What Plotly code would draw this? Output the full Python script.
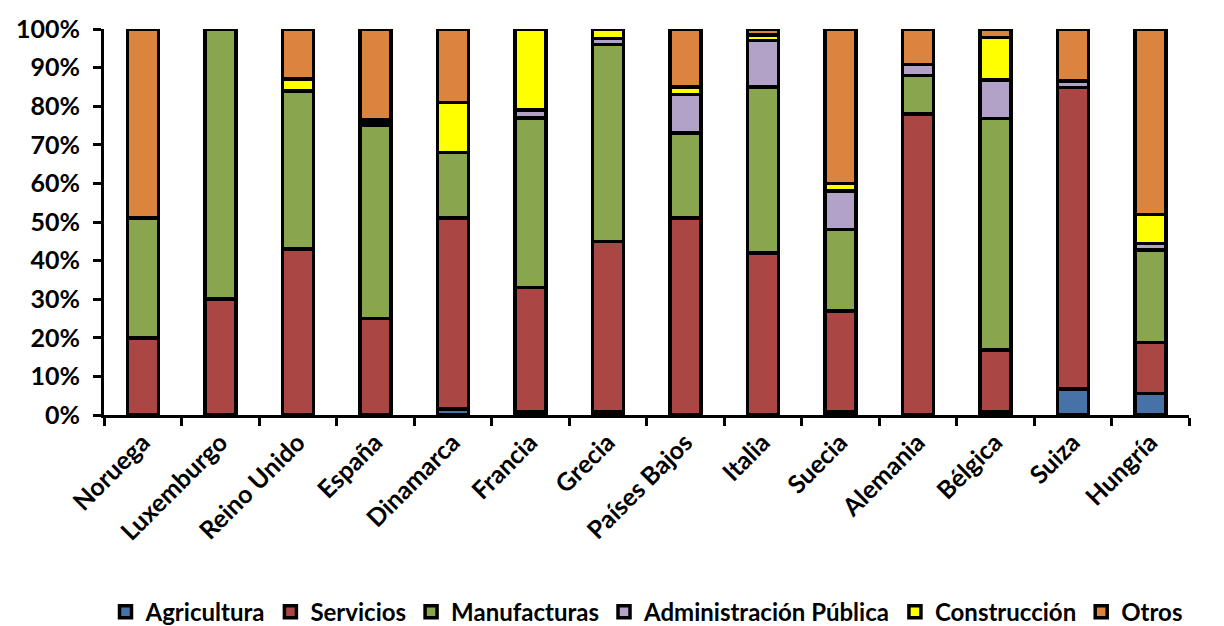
import plotly.graph_objects as go

paises = ["Noruega", "Luxemburgo", "Reino Unido", "España", "Dinamarca", "Francia", "Grecia",
          "Países Bajos", "Italia", "Suecia", "Alemania", "Bélgica", "Suiza", "Hungría"]

agricultura    = [0, 0, 0, 0, 1.5, 0.8, 0.8, 0, 0, 0.8, 0, 0.8, 6.7, 5.6]
servicios      = [20, 30, 43, 25, 49.5, 32.2, 44.2, 51, 42, 26.2, 78, 16, 78.2, 13.2]
manufacturas   = [31, 70, 41, 50, 17, 44, 51, 22, 43, 21, 10, 60, 0, 24]
administracion = [0, 0, 0, 0.7, 0, 2, 1.5, 10, 12, 10, 2.8, 10, 1.6, 1.6]
construccion   = [0, 0, 3, 0.7, 13, 21, 2.5, 2, 1.5, 2, 0, 11, 0, 7.5]
otros          = [49, 0, 13, 23.6, 19, 0, 0, 15, 1.5, 40, 9.2, 2.2, 13.5, 48.1]

series = [
    ("Agricultura", agricultura, "#4672A8"),
    ("Servicios", servicios, "#AA4643"),
    ("Manufacturas", manufacturas, "#89A54E"),
    ("Administración Pública", administracion, "#B2A2C7"),
    ("Construcción", construccion, "#FFFF00"),
    ("Otros", otros, "#DB843D"),
]

FONT = "Lato"

fig = go.Figure()
for name, vals, color in series:
    fig.add_trace(go.Bar(
        x=paises, y=vals, name=name,
        marker=dict(color=color, line=dict(color="black", width=3.5)),
    ))

fig.update_layout(
    barmode="stack",
    bargap=0.6,
    width=1224, height=626,
    margin=dict(l=104, r=35, t=29, b=211),
    paper_bgcolor="white", plot_bgcolor="white",
    font=dict(family=FONT, color="black"),
    legend=dict(
        orientation="h", x=0.5, xanchor="center",
        yref="container", y=0.022, yanchor="middle",
        font=dict(family=FONT, size=24, weight="bold"),
        traceorder="normal",
        itemwidth=30,
        entrywidthmode="pixels",
    ),
    xaxis=dict(
        type="category",
        showline=True, linecolor="black", linewidth=3,
        ticks="outside", tickson="boundaries", ticklen=8, tickwidth=3, tickcolor="black",
        tickangle=-45,
        tickfont=dict(family=FONT, size=25, weight="bold"),
        showgrid=False,
    ),
    yaxis=dict(
        range=[0, 100], dtick=10, ticksuffix="%",
        showline=True, linecolor="black", linewidth=3,
        ticks="outside", ticklen=8, tickwidth=3, tickcolor="black",
        ticklabelstandoff=8,
        tickfont=dict(family=FONT, size=25, weight="bold"),
        showgrid=False, zeroline=False,
    ),
)

fig.write_html("out.html")
